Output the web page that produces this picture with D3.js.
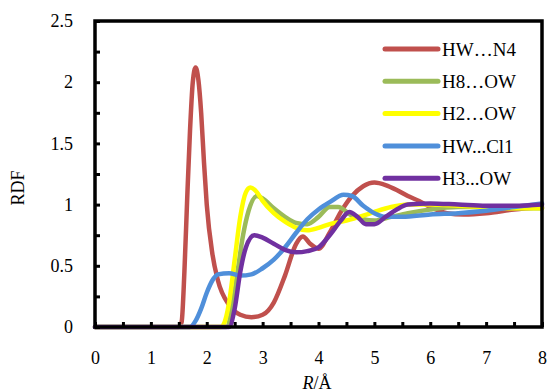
<!DOCTYPE html>
<html>
<head>
<meta charset="utf-8">
<script src="https://cdn.jsdelivr.net/npm/d3@7"></script>
<style>
  body { margin: 0; background: #fff; }
  svg { display: block; font-family: "Liberation Serif", "Times New Roman", serif; }
</style>
</head>
<body>
<svg id="chart"></svg>
<script>
// RDF curves, [R in Å, g(R)]
const hwN4 = [[0,0],[1.5,0],[1.55,0.04],[1.6,0.45],[1.65,1.05],[1.7,1.6],[1.75,2.0],[1.8,2.12],[1.85,2.02],
  [1.9,1.75],[1.95,1.35],[2.0,1.0],[2.1,0.6],[2.2,0.38],[2.4,0.18],[2.6,0.1],[2.8,0.08],[3.0,0.1],
  [3.2,0.2],[3.4,0.42],[3.6,0.68],[3.72,0.74],[3.85,0.68],[4.0,0.64],[4.2,0.77],[4.4,0.94],[4.6,1.07],
  [4.8,1.15],[5.0,1.18],[5.2,1.16],[5.4,1.12],[5.6,1.07],[5.8,1.03],[6.0,0.98],[6.3,0.93],[6.6,0.92],
  [7.0,0.93],[7.5,0.96],[8.0,0.98]];
const h8OW = [[0,0],[2.35,0],[2.45,0.15],[2.55,0.45],[2.65,0.75],[2.75,0.95],[2.9,1.07],[3.0,1.05],
  [3.2,0.97],[3.4,0.9],[3.6,0.85],[3.8,0.84],[4.0,0.9],[4.2,0.98],[4.35,0.98],[4.6,0.91],[4.8,0.88],
  [5.0,0.87],[5.3,0.9],[5.6,0.93],[6.0,0.96],[6.5,0.98],[7.0,0.98],[7.5,0.97],[8.0,0.97]];
const h2OW = [[0,0],[2.25,0],[2.3,0.02],[2.4,0.2],[2.5,0.55],[2.6,0.9],[2.7,1.1],[2.78,1.14],[2.9,1.1],
  [3.0,1.03],[3.2,0.93],[3.4,0.86],[3.6,0.81],[3.8,0.79],[4.0,0.81],[4.2,0.84],[4.5,0.87],[4.8,0.91],
  [5.0,0.94],[5.3,0.98],[5.6,1.0],[6.0,1.0],[6.5,0.99],[7.0,0.98],[7.5,0.97],[8.0,0.97]];
const hwCl1 = [[0,0],[1.7,0],[1.8,0.05],[1.9,0.15],[2.0,0.28],[2.1,0.38],[2.2,0.43],[2.4,0.44],[2.6,0.42],
  [2.8,0.43],[3.0,0.48],[3.2,0.55],[3.4,0.65],[3.6,0.77],[3.8,0.88],[4.0,0.96],[4.2,1.02],[4.45,1.08],
  [4.6,1.07],[4.8,0.99],[5.0,0.93],[5.2,0.9],[5.5,0.9],[6.0,0.92],[6.5,0.93],[7.0,0.95],[7.5,0.98],[8.0,1.01]];
const h3OW = [[0,0],[2.4,0],[2.5,0.15],[2.6,0.45],[2.7,0.65],[2.85,0.75],[3.0,0.73],[3.2,0.68],[3.4,0.63],
  [3.6,0.61],[3.8,0.62],[4.0,0.65],[4.2,0.75],[4.4,0.87],[4.55,0.94],[4.7,0.9],[4.85,0.84],[5.0,0.84],
  [5.2,0.9],[5.4,0.96],[5.6,1.0],[6.0,1.01],[6.5,1.0],[7.0,0.99],[7.5,0.99],[8.0,1.0]];

const seriesNames = ['HW\u2026N4', 'H8\u2026OW', 'H2\u2026OW', 'HW...Cl1', 'H3...OW'];
const seriesData = [hwN4, h8OW, h2OW, hwCl1, h3OW];
const seriesColors = ['#C0504D', '#9BBB59', '#FFFF00', '#4F8FDA', '#7030A0'];

const xTicks = d3.range(0, 8.01, 0.5);
const yTicks = d3.range(0, 2.51, 0.25);

let width = 548;
let height = 392;
let plotLeft = 95, plotRight = 542, plotTop = 21, plotBottom = 327;

let svg = d3.select('#chart')
            .attr('width', width)
            .attr('height', height);

let xScale = d3.scaleLinear().domain([0, 8]).range([plotLeft, plotRight]);
let yScale = d3.scaleLinear().domain([0, 2.5]).range([plotBottom, plotTop]);

let xAxis = d3.axisBottom(xScale)
              .tickValues(xTicks)
              .tickSizeInner(-5)
              .tickSizeOuter(0)
              .tickPadding(24)
              .tickFormat(d => d % 1 === 0 ? d3.format('d')(d) : '');

let yAxis = d3.axisLeft(yScale)
              .tickValues(yTicks)
              .tickSizeInner(-5)
              .tickSizeOuter(0)
              .tickPadding(22)
              .tickFormat(d => (d * 2) % 1 === 0 ? String(d) : '');

let line = d3.line()
             .x(d => xScale(d[0]))
             .y(d => yScale(d[1]))
             .curve(d3.curveMonotoneX);

svg.selectAll('path.rdf')
    .data(seriesData)
    .enter()
    .append('path')
    .classed('rdf', true)
    .attr('d', line)
    .attr('fill', 'none')
    .attr('stroke', (d, i) => seriesColors[i])
    .attr('stroke-width', 4.5)
    .attr('stroke-linejoin', 'round')
    .attr('stroke-linecap', 'round');

// frame
svg.append('rect')
    .attr('x', plotLeft)
    .attr('y', plotTop)
    .attr('width', plotRight - plotLeft)
    .attr('height', plotBottom - plotTop)
    .attr('fill', 'none')
    .attr('stroke', '#000')
    .attr('stroke-width', 3.5);

let gx = svg.append('g')
    .attr('transform', `translate(0,${plotBottom})`)
    .call(xAxis);

let gy = svg.append('g')
    .attr('transform', `translate(${plotLeft},0)`)
    .call(yAxis);

[gx, gy].forEach(g => {
  g.select('.domain').remove();
  g.selectAll('line').attr('stroke', '#000').attr('stroke-width', 3);
  g.selectAll('text')
    .attr('fill', '#000')
    .style('font-family', '"Liberation Serif", serif')
    .style('font-size', '18px');
});

svg.append('text')
    .attr('transform', 'rotate(-90)')
    .attr('x', -188)
    .attr('y', 18)
    .attr('dy', '0.35em')
    .style('font-size', '18px')
    .style('text-anchor', 'middle')
    .text('RDF');

let xl = svg.append('text')
    .attr('x', 317)
    .attr('y', 389)
    .style('font-size', '18px')
    .style('text-anchor', 'middle');
xl.append('tspan').style('font-style', 'italic').text('R');
xl.append('tspan').text('/\u00C5');

let legend = svg.append('g');
let rowY = i => 49 + i * 32.3;

legend.selectAll('line')
    .data(seriesNames)
    .enter()
    .append('line')
    .attr('x1', 385)
    .attr('x2', 438)
    .attr('y1', (d, i) => rowY(i))
    .attr('y2', (d, i) => rowY(i))
    .attr('stroke', (d, i) => seriesColors[i])
    .attr('stroke-width', 5)
    .attr('stroke-linecap', 'round');

legend.selectAll('text')
    .data(seriesNames)
    .enter()
    .append('text')
    .attr('x', 442)
    .attr('y', (d, i) => rowY(i))
    .attr('dy', '0.35em')
    .style('font-size', '19px')
    .text(d => d);
</script>
</body>
</html>
